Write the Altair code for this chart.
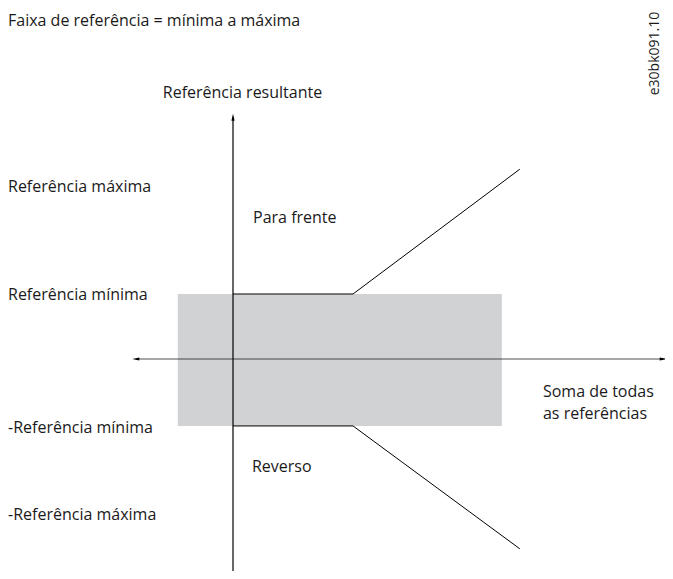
import altair as alt
import pandas as pd

FONT = "Open Sans"
FS = 16

# Logical diagram units: origin at axes crossing; x unit = breakpoint, y unit = minimum reference
band_x = [-0.46, 2.24]
band_y = [-1.03, 1.0]

fwd_x = [0.0, 1.0, 2.39]
fwd_y = [1.0, 1.0, 2.92]
rev_x = [0.0, 1.0, 2.39]
rev_y = [-1.03, -1.03, -2.92]

yaxis_range = [-3.26, 3.72]
xaxis_range = [-0.81, 3.585]

label_text = ["Faixa de referência = mínima a máxima", "Referência máxima",
              "Referência mínima", "-Referência mínima", "-Referência máxima",
              "Para frente", "Reverso", "Soma de todas", "as referências"]
label_x = [-1.875, -1.875, -1.875, -1.875, -1.875, 0.167, 0.158, 2.583, 2.583]
label_y = [5.2, 2.646, 0.985, -1.062, -2.4, 2.169, -1.662, -0.5, -0.85]

title_text = ["Referência resultante"]
title_x = [0.079]
title_y = [4.092]

code_text = ["e30bk091.10"]
code_x = [3.517]
code_y = [4.7]

xs = alt.Scale(domain=[-1.875, 3.6], nice=False, zero=False)
ys = alt.Scale(domain=[-3.2615, 5.4], nice=False, zero=False)

def X(f):
    return alt.X(f, type="quantitative", scale=xs, axis=None)

def Y(f):
    return alt.Y(f, type="quantitative", scale=ys, axis=None)

band = alt.Chart(pd.DataFrame({"x": [band_x[0]], "x2": [band_x[1]],
                               "y": [band_y[0]], "y2": [band_y[1]]})).mark_rect(
    color="#d1d2d4").encode(x=X("x"), x2="x2", y=Y("y"), y2="y2")

vaxis = alt.Chart(pd.DataFrame({"x": [0.0], "y": [yaxis_range[0]], "y2": [yaxis_range[1]]})).mark_rule(
    color="black", strokeWidth=1.2).encode(x=X("x"), y=Y("y"), y2="y2")
haxis = alt.Chart(pd.DataFrame({"y": [0.0], "x": [xaxis_range[0]], "x2": [xaxis_range[1]]})).mark_rule(
    color="#222222", strokeWidth=0.8).encode(y=Y("y"), x=X("x"), x2="x2")

arrows = pd.DataFrame({
    "x": [0.0, xaxis_range[0], xaxis_range[1]],
    "y": [yaxis_range[1], 0.0, 0.0],
    "dir": ["up", "left", "right"],
})
shapes = {"up": "M0,-1L0.45,1L-0.45,1Z", "left": "M-1,0L1,-0.45L1,0.45Z", "right": "M1,0L-1,-0.45L-1,0.45Z"}
arrow_layers = [
    alt.Chart(arrows[arrows["dir"] == d]).mark_point(
        shape=s, filled=True, color="black", size=50, opacity=1).encode(x=X("x"), y=Y("y"))
    for d, s in shapes.items()
]

lines_df = pd.DataFrame({
    "x": fwd_x + rev_x, "y": fwd_y + rev_y,
    "s": ["fwd"] * 3 + ["rev"] * 3, "o": list(range(3)) * 2,
})
lines = alt.Chart(lines_df).mark_line(color="black", strokeWidth=1).encode(
    x=X("x"), y=Y("y"), detail="s:N", order="o:Q")

labels = alt.Chart(pd.DataFrame({"t": label_text, "x": label_x, "y": label_y})).mark_text(
    align="left", baseline="middle", font=FONT, fontSize=FS, color="#1a1a1a").encode(
    x=X("x"), y=Y("y"), text="t:N")

title = alt.Chart(pd.DataFrame({"t": title_text, "x": title_x, "y": title_y})).mark_text(
    align="center", baseline="middle", font=FONT, fontSize=FS, color="#1a1a1a").encode(
    x=X("x"), y=Y("y"), text="t:N")

code = alt.Chart(pd.DataFrame({"t": code_text, "x": code_x, "y": code_y})).mark_text(
    align="center", baseline="middle", angle=270, font=FONT, fontSize=14, color="#1a1a1a").encode(
    x=X("x"), y=Y("y"), text="t:N")

chart = alt.layer(band, haxis, vaxis, lines, *arrow_layers, labels, title, code).properties(
    width=657, height=563, autosize=alt.AutoSizeParams(type="none"), padding=0,
    background="white",
).configure_view(stroke=None)

chart.save("out.html", embed_options={"renderer": "svg", "actions": False})
